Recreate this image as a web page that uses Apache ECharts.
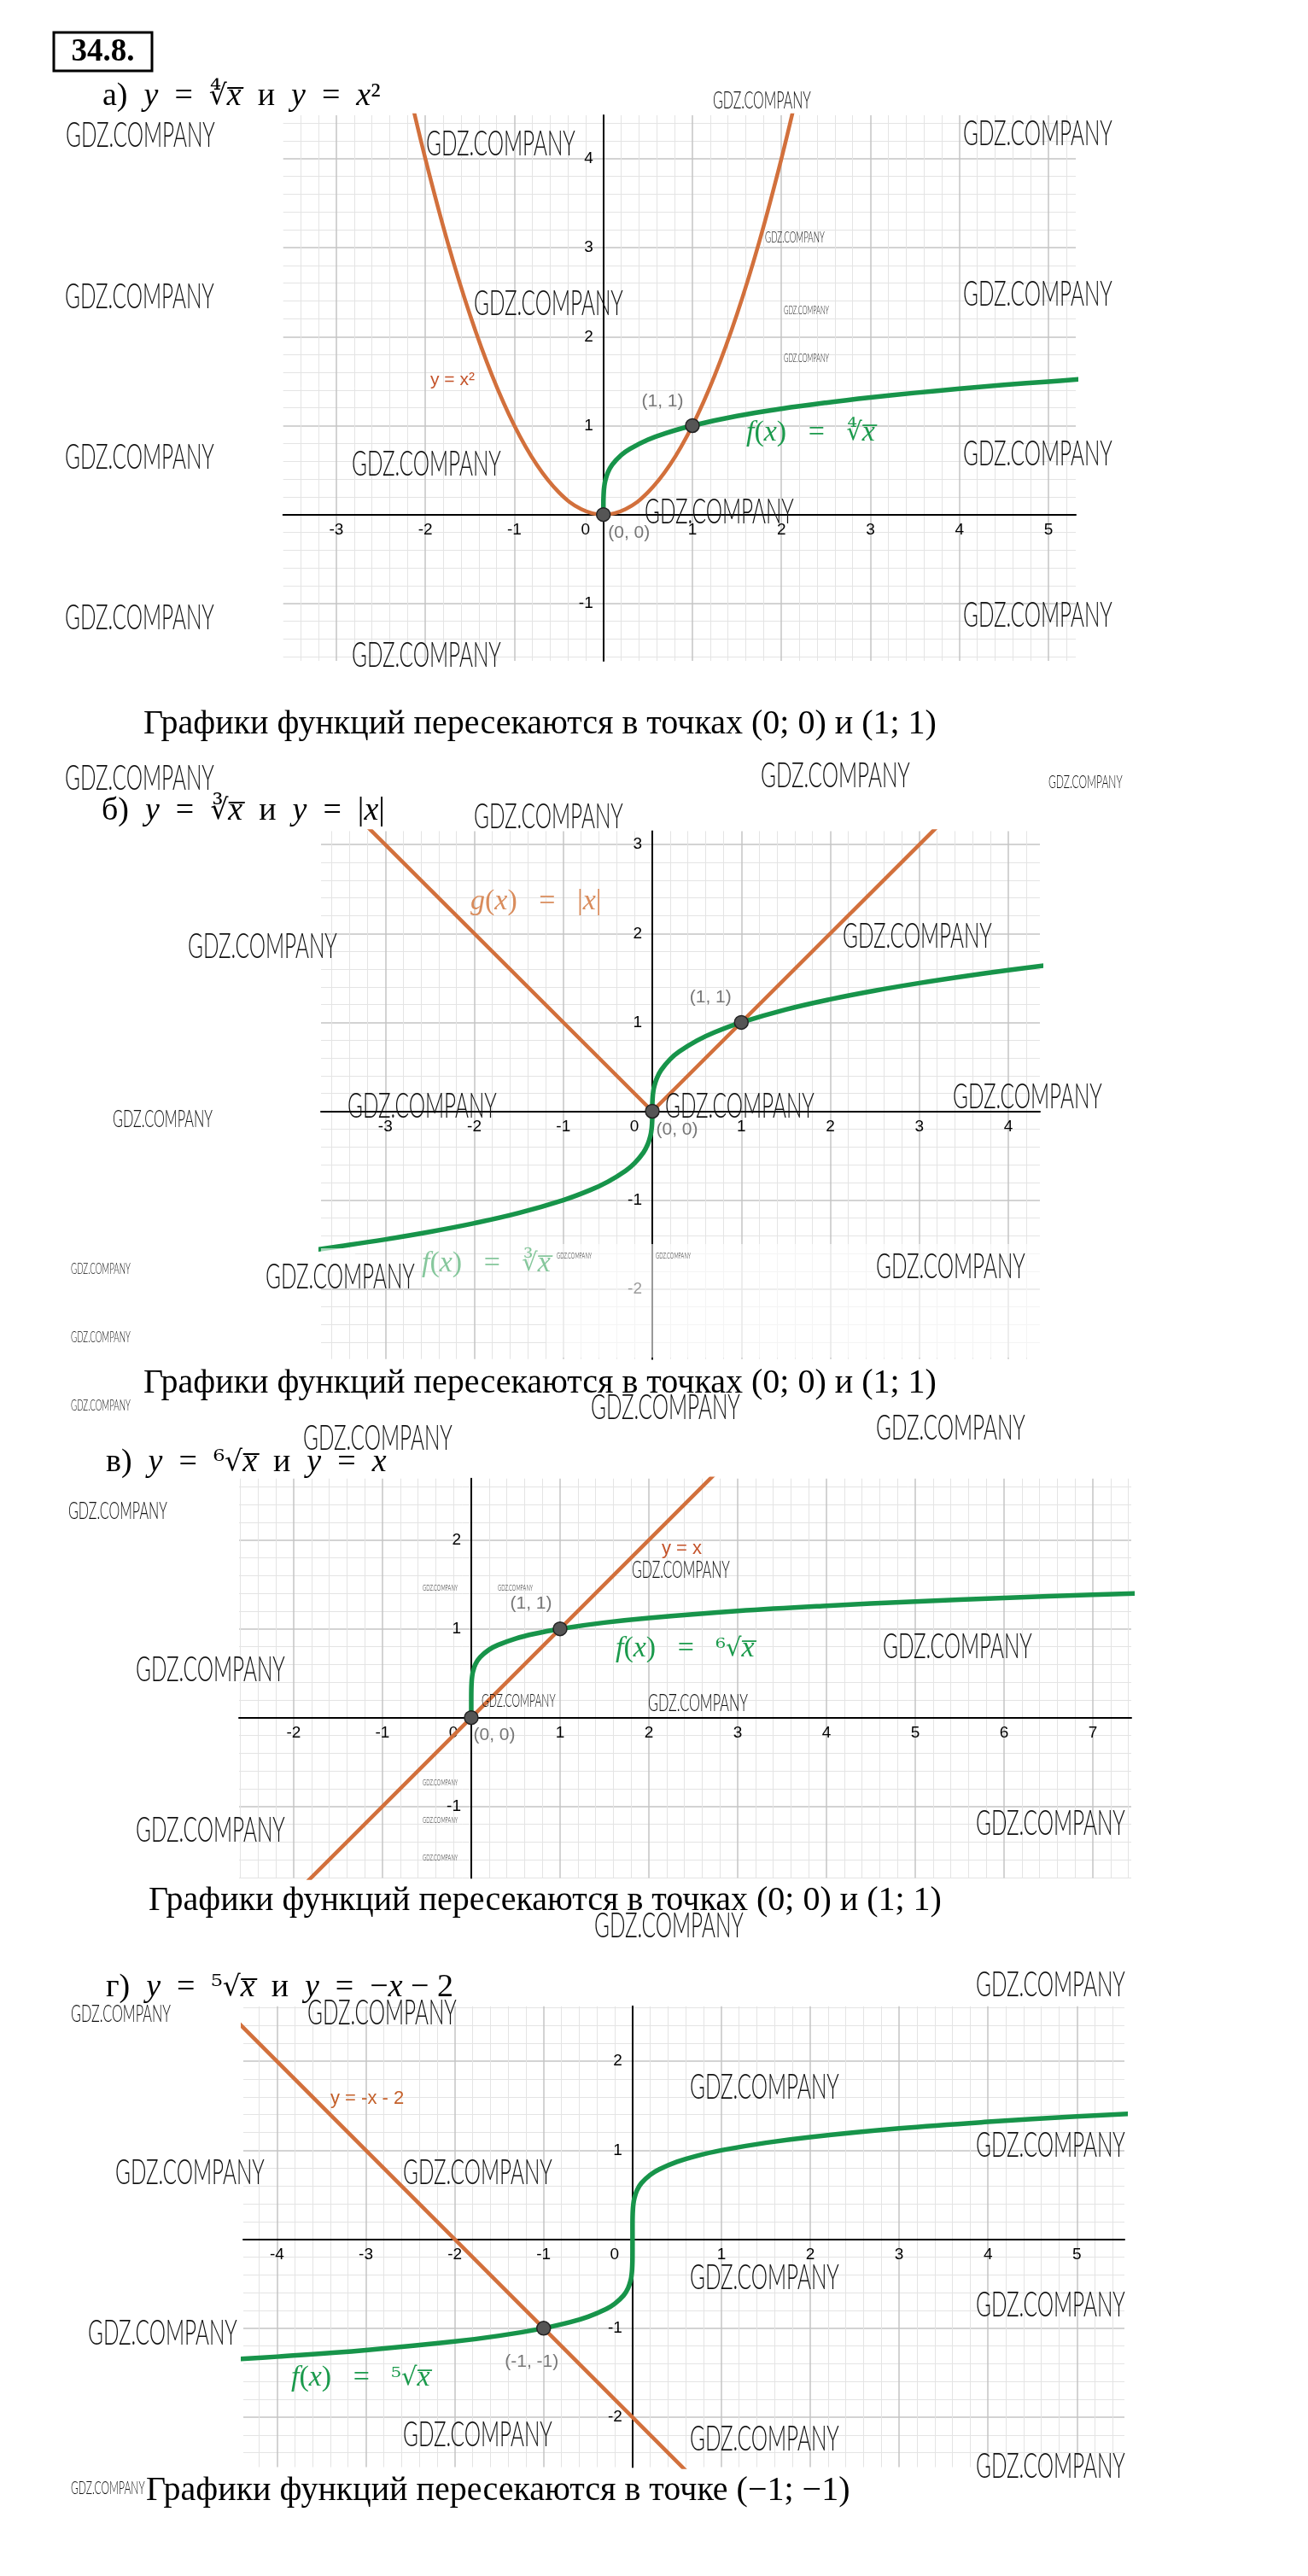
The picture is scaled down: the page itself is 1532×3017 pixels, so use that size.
<!DOCTYPE html>
<html><head><meta charset="utf-8">
<script src="https://cdn.jsdelivr.net/npm/echarts@6/dist/echarts.min.js"></script>
<style>html,body{margin:0;padding:0;background:#fff}#c{width:1532px;height:3017px}</style>
</head><body><div id="c"></div>
<script>
// ================= DATA =================
// а) y = x^(1/4) и y = x^2
const aRangeX = [-3.597, 5.307], aRangeY = [-1.644, 4.488];
const aSquareX = [-2.2, -2, -1.75, -1.5, -1.25, -1, -0.75, -0.5, -0.25, 0, 0.25, 0.5, 0.75, 1, 1.25, 1.5, 1.75, 2, 2.2];
const aSquareY = [4.84, 4, 3.0625, 2.25, 1.5625, 1, 0.5625, 0.25, 0.0625, 0, 0.0625, 0.25, 0.5625, 1, 1.5625, 2.25, 3.0625, 4, 4.84];
const aRootX = [0, 0.0001, 0.001, 0.005, 0.01, 0.02, 0.05, 0.1, 0.2, 0.3, 0.5, 0.7, 1, 1.5, 2, 2.5, 3, 3.5, 4, 4.5, 5, 5.4];
const aRootY = [0, 0.1, 0.178, 0.266, 0.316, 0.376, 0.473, 0.562, 0.669, 0.74, 0.841, 0.915, 1, 1.107, 1.189, 1.257, 1.316, 1.368, 1.414, 1.457, 1.495, 1.524];
const aPtsX = [0, 1], aPtsY = [0, 1], aPtsLabel = ['(0, 0)', '(1, 1)'];

// б) y = x^(1/3) и y = |x|
const bRangeX = [-3.722, 4.355], bRangeY = [-2.788, 3.152];
const bAbsX = [-3.8, 0, 4.4];
const bAbsY = [3.8, 0, 4.4];
const bRootX = [-3.8, -3.5, -3, -2.5, -2, -1.5, -1, -0.7, -0.5, -0.3, -0.2, -0.1, -0.05, -0.02, -0.01, -0.005, -0.001, -0.0001, 0, 0.0001, 0.001, 0.005, 0.01, 0.02, 0.05, 0.1, 0.2, 0.3, 0.5, 0.7, 1, 1.5, 2, 2.5, 3, 3.5, 4, 4.4];
const bRootY = [-1.5605, -1.5183, -1.4422, -1.3572, -1.2599, -1.1447, -1, -0.8879, -0.7937, -0.6694, -0.5848, -0.4642, -0.3684, -0.2714, -0.2154, -0.171, -0.1, -0.0464, 0, 0.0464, 0.1, 0.171, 0.2154, 0.2714, 0.3684, 0.4642, 0.5848, 0.6694, 0.7937, 0.8879, 1, 1.1447, 1.2599, 1.3572, 1.4422, 1.5183, 1.5874, 1.6386];
const bPtsX = [0, 1], bPtsY = [0, 1], bPtsLabel = ['(0, 0)', '(1, 1)'];

// в) y = x^(1/6) и y = x
const cRangeX = [-2.615, 7.433], cRangeY = [-1.806, 2.692];
const cLineX = [-2.8, 2.8];
const cLineY = [-2.8, 2.8];
const cRootX = [0, 0.00001, 0.0001, 0.001, 0.005, 0.01, 0.02, 0.05, 0.1, 0.2, 0.3, 0.5, 0.7, 1, 1.5, 2, 3, 4, 5, 6, 7, 7.5];
const cRootY = [0, 0.147, 0.215, 0.316, 0.414, 0.464, 0.521, 0.607, 0.681, 0.765, 0.818, 0.891, 0.942, 1, 1.07, 1.122, 1.201, 1.26, 1.308, 1.348, 1.383, 1.399];
const cPtsX = [0, 1], cPtsY = [0, 1], cPtsLabel = ['(0, 0)', '(1, 1)'];

// г) y = x^(1/5) и y = -x - 2
const dRangeX = [-4.379, 5.535], dRangeY = [-2.561, 2.618];
const dLineX = [-4.5, 0.7];
const dLineY = [2.5, -2.7];
const dRootX = [-4.5, -4, -3, -2, -1.5, -1, -0.7, -0.5, -0.3, -0.2, -0.1, -0.05, -0.02, -0.01, -0.005, -0.001, -0.0001, -0.00001, 0, 0.00001, 0.0001, 0.001, 0.005, 0.01, 0.02, 0.05, 0.1, 0.2, 0.3, 0.5, 0.7, 1, 1.5, 2, 3, 4, 5, 5.6];
const dRootY = [-1.351, -1.3195, -1.2457, -1.1487, -1.0845, -1, -0.9312, -0.8706, -0.786, -0.7248, -0.631, -0.5493, -0.4573, -0.3981, -0.3466, -0.2512, -0.1585, -0.1, 0, 0.1, 0.1585, 0.2512, 0.3466, 0.3981, 0.4573, 0.5493, 0.631, 0.7248, 0.786, 0.8706, 0.9312, 1, 1.0845, 1.1487, 1.2457, 1.3195, 1.3797, 1.4114];
const dPtsX = [-1], dPtsY = [-1], dPtsLabel = ['(-1, -1)'];

// texts
const titleText = '34.8.';
const statementAB = 'Графики функций пересекаются в точках (0; 0) и (1; 1)';
const statementD = 'Графики функций пересекаются в точке (−1; −1)';
const wmText = 'GDZ.COMPANY';

// ================= STYLE / LAYOUT =================
const ORANGE = '#d2703c', GREEN = '#17944a';
const grids = [
  {left: 331.7, top: 135, width: 928.3, height: 639},
  {left: 376, top: 973.4, width: 842, height: 618.3},
  {left: 280, top: 1731.7, width: 1045, height: 467.8},
  {left: 285, top: 2349.8, width: 1032, height: 539.7}
];
const ranges = [[aRangeX, aRangeY], [bRangeX, bRangeY], [cRangeX, cRangeY], [dRangeX, dRangeY]];
const isInt = v => Math.abs(v - Math.round(v)) < 1e-9;
const tickFont = {color: '#000', fontSize: 19, fontFamily: 'Liberation Sans'};

const xAxes = [], yAxes = [];
ranges.forEach((r, gi) => {
  const g = grids[gi];
  const common = {
    type: 'value', gridIndex: gi, minInterval: 1, maxInterval: 1,
    axisLine: {onZero: false, lineStyle: {color: '#000', width: 2}},
    axisTick: {show: false},
    splitLine: {show: true, showMinLine: false, showMaxLine: false, lineStyle: {color: '#c4c4c4', width: 1.5}},
    minorTick: {show: false, splitNumber: 5},
    minorSplitLine: {show: true, lineStyle: {color: '#e4e4e4', width: 1}}
  };
  // place each axis line through the other axis' zero
  const xOff = -g.height * (0 - r[1][0]) / (r[1][1] - r[1][0]);
  const yOff = -g.width * (0 - r[0][0]) / (r[0][1] - r[0][0]);
  xAxes.push(Object.assign({}, common, {
    position: 'bottom', offset: xOff,
    min: r[0][0], max: r[0][1],
    axisLabel: Object.assign({showMinLabel: false, showMaxLabel: false, margin: 9, hideOverlap: false,
      formatter: v => !isInt(v) ? '' : (Math.round(v) === 0 ? '{z|0}' : String(Math.round(v))),
      rich: {z: Object.assign({padding: [0, 42, 0, 0]}, tickFont)}}, tickFont)
  }));
  yAxes.push(Object.assign({}, common, {
    position: 'left', offset: yOff,
    min: r[1][0], max: r[1][1],
    axisLabel: Object.assign({showMinLabel: false, showMaxLabel: false, margin: 12, hideOverlap: false,
      formatter: v => (!isInt(v) || Math.round(v) === 0) ? '' : String(Math.round(v))}, tickFont)
  }));
});

const series = [];
function curve(gi, xs, ys, color, width, smooth) {
  series.push({type: 'line', xAxisIndex: gi, yAxisIndex: gi, data: xs.map((x, i) => [x, ys[i]]),
    showSymbol: false, symbol: 'none', smooth: smooth ? 0.4 : false,
    lineStyle: {color: color, width: width, cap: 'round', join: 'round'}, clip: true, silent: true, z: 3, animation: false});
}
function points(gi, xs, ys, labels, place) {
  series.push({type: 'scatter', xAxisIndex: gi, yAxisIndex: gi, symbolSize: 16, z: 5, animation: false, silent: true,
    itemStyle: {color: '#555', borderColor: '#222', borderWidth: 1.5, opacity: 1},
    data: xs.map((x, i) => ({value: [x, ys[i]], label: {show: true, formatter: labels[i], position: place[i][0], offset: place[i][1],
      color: '#777', fontSize: 21, fontFamily: 'Liberation Sans'}}))});
}
curve(0, aSquareX, aSquareY, ORANGE, 4.5, true);
curve(0, aRootX, aRootY, GREEN, 5.5, true);
points(0, aPtsX, aPtsY, aPtsLabel, [['bottom', [30, -3]], ['top', [-35, -4]]]);
curve(1, bAbsX, bAbsY, ORANGE, 4.5, false);
curve(1, bRootX, bRootY, GREEN, 5.5, true);
points(1, bPtsX, bPtsY, bPtsLabel, [['bottom', [29, -3]], ['top', [-36, -5]]]);
curve(2, cLineX, cLineY, ORANGE, 4.5, false);
curve(2, cRootX, cRootY, GREEN, 5.5, true);
points(2, cPtsX, cPtsY, cPtsLabel, [['bottom', [27, -4]], ['top', [-34, -5]]]);
curve(3, dLineX, dLineY, ORANGE, 4.5, false);
curve(3, dRootX, dRootY, GREEN, 5.5, true);
points(3, dPtsX, dPtsY, dPtsLabel, [['bottom', [-14, 15]]]);

// ---------- graphic texts ----------
const graphic = [];
const serif = 'Liberation Serif';
const richHead = {
  n: {fontFamily: serif, fontSize: 38, color: '#000'},
  i: {fontFamily: serif, fontSize: 38, fontStyle: 'italic', color: '#000'},
  r: {fontFamily: 'DejaVu Serif', fontSize: 33, color: '#000'}
};
function txt(x, y, text, style, z) {
  graphic.push({type: 'text', x: x, y: y, z: z || 20, silent: true, style: Object.assign({text: text, x: 0, y: 0, verticalAlign: 'middle', align: 'left'}, style)});
}
// title box
graphic.push({type: 'rect', z: 20, silent: true, shape: {x: 63, y: 38, width: 115, height: 45}, style: {fill: 'none', stroke: '#000', lineWidth: 3}});
txt(120.5, 61, titleText, {align: 'center', font: 'bold 37px "Liberation Serif"', fill: '#000'});
// headings
const headStyle = {font: '38px "Liberation Serif"', fill: '#000', rich: richHead};
txt(120, 113, '{n|а)}  {i|y}  {n|=}  {r|∜}{i|x\u0305}  {n|и}  {i|y}  {n|=}  {i|x}{n|²}', headStyle);
txt(119, 950, '{n|б)}  {i|y}  {n|=}  {r|∛}{i|x\u0305}  {n|и}  {i|y}  {n|=}  {n||}{i|x}{n||}', headStyle);
txt(124, 1713, '{n|в)}  {i|y}  {n|=}  {r|⁶√}{i|x\u0305}  {n|и}  {i|y}  {n|=}  {i|x}', headStyle);
txt(124, 2328, '{n|г)}  {i|y}  {n|=}  {r|⁵√}{i|x\u0305}  {n|и}  {i|y}  {n|=}  {n|−}{i|x} {n|−} {n|2}', headStyle);
// statements
const stStyle = {font: '40px "Liberation Serif"', fill: '#000'};
txt(168, 848, statementAB, stStyle);
txt(168, 1620, statementAB, stStyle);
txt(174, 2226, statementAB, stStyle);
txt(171, 2917, statementD, stStyle);
// function labels
function fLabel(x, y, idx, color) {
  const rich = {
    i: {fontFamily: serif, fontStyle: 'italic', fontSize: 34, color: color},
    n: {fontFamily: serif, fontSize: 34, color: color},
    r: {fontFamily: 'DejaVu Serif', fontSize: 29, color: color}
  };
  txt(x, y, '{i|f}{n|(}{i|x}{n|)}   {n|=}   {r|' + idx + '}{i|x\u0305}', {font: '34px "Liberation Serif"', fill: color, rich: rich}, 21);
}
fLabel(874, 507, '∜', '#1b9a4c');
fLabel(494, 1480, '∛', '#86c79c');
fLabel(721, 1931, '⁶√', '#1b9a4c');
fLabel(341, 2785, '⁵√', '#1b9a4c');
txt(551, 1056, '{i|g}{n|(}{i|x}{n|)}   {n|=}   {n||}{i|x}{n||}', {font: '34px "Liberation Serif"', fill: '#d98c5c', rich: {
  i: {fontFamily: serif, fontStyle: 'italic', fontSize: 34, color: '#d98c5c'}, n: {fontFamily: serif, fontSize: 34, color: '#d98c5c'}}}, 21);
txt(504, 445, 'y = x²', {font: '21px "Liberation Sans"', fill: '#c4532a'});
txt(775, 1814, 'y = x', {font: '22px "Liberation Sans"', fill: '#c4532a'});
txt(387, 2458, 'y = -x - 2', {font: '22px "Liberation Sans"', fill: '#c4602a'});
// faded (erased) area in chart б
graphic.push({type: 'rect', z: 15, silent: true, shape: {x: 640, y: 1457, width: 578, height: 133}, style: {fill: 'rgba(255,255,255,0.6)'}});
graphic.push({type: 'rect', z: 15, silent: true, shape: {x: 376, y: 1462, width: 40, height: 30}, style: {fill: 'rgba(255,255,255,0.6)'}});
// watermarks [left, centerY, width]
const wms = [
  [77,158,178],[499,168,178],[835,118,117],[1128,156,178],[896,279,71],[76,347,178],[555,355,178],[1128,344,178],[918,364,54],[918,420,54],
  [76,535,178],[412,543,178],[1128,531,178],[755,599,178],[76,723,178],[1128,720,178],[412,767,178],
  [76,911,178],[891,908,178],[1228,916,88],[555,956,178],[220,1108,178],[987,1096,178],[132,1311,119],[407,1295,178],[779,1295,178],
  [1116,1284,178],[83,1487,71],[311,1495,178],[1026,1483,178],[652,1471,42],[768,1471,42],[83,1567,71],
  [83,1647,71],[692,1648,178],[1026,1672,178],[355,1684,178],[80,1770,118],[740,1839,117],[495,1860,42],[583,1860,42],
  [159,1955,178],[1034,1928,178],[564,1992,88],[759,1995,119],[159,2143,178],[1143,2135,178],[495,2088,42],[495,2132,42],[495,2176,42],[696,2255,178],
  [1143,2324,178],[360,2357,178],[83,2359,119],[808,2444,178],[1143,2512,178],[135,2544,178],[472,2544,178],[808,2667,178],
  [1143,2699,178],[103,2732,178],[472,2851,178],[808,2856,178],[1143,2888,178],[83,2914,88]
];
wms.forEach(w => {
  graphic.push({type: 'text', x: w[0], y: w[1], scaleX: 0.58, z: 30, silent: true,
    style: {text: wmText, x: 0, y: 0, verticalAlign: 'middle', align: 'left', font: '300 ' + (w[2] * 0.236).toFixed(1) + 'px Lato', fill: '#111'}});
});

const chart = echarts.init(document.getElementById('c'), null, {renderer: 'canvas', width: 1532, height: 3017});
chart.setOption({
  animation: false,
  backgroundColor: '#fff',
  grid: grids.map(g => Object.assign({containLabel: false}, g)),
  xAxis: xAxes,
  yAxis: yAxes,
  series: series,
  graphic: graphic
});
</script></body></html>
